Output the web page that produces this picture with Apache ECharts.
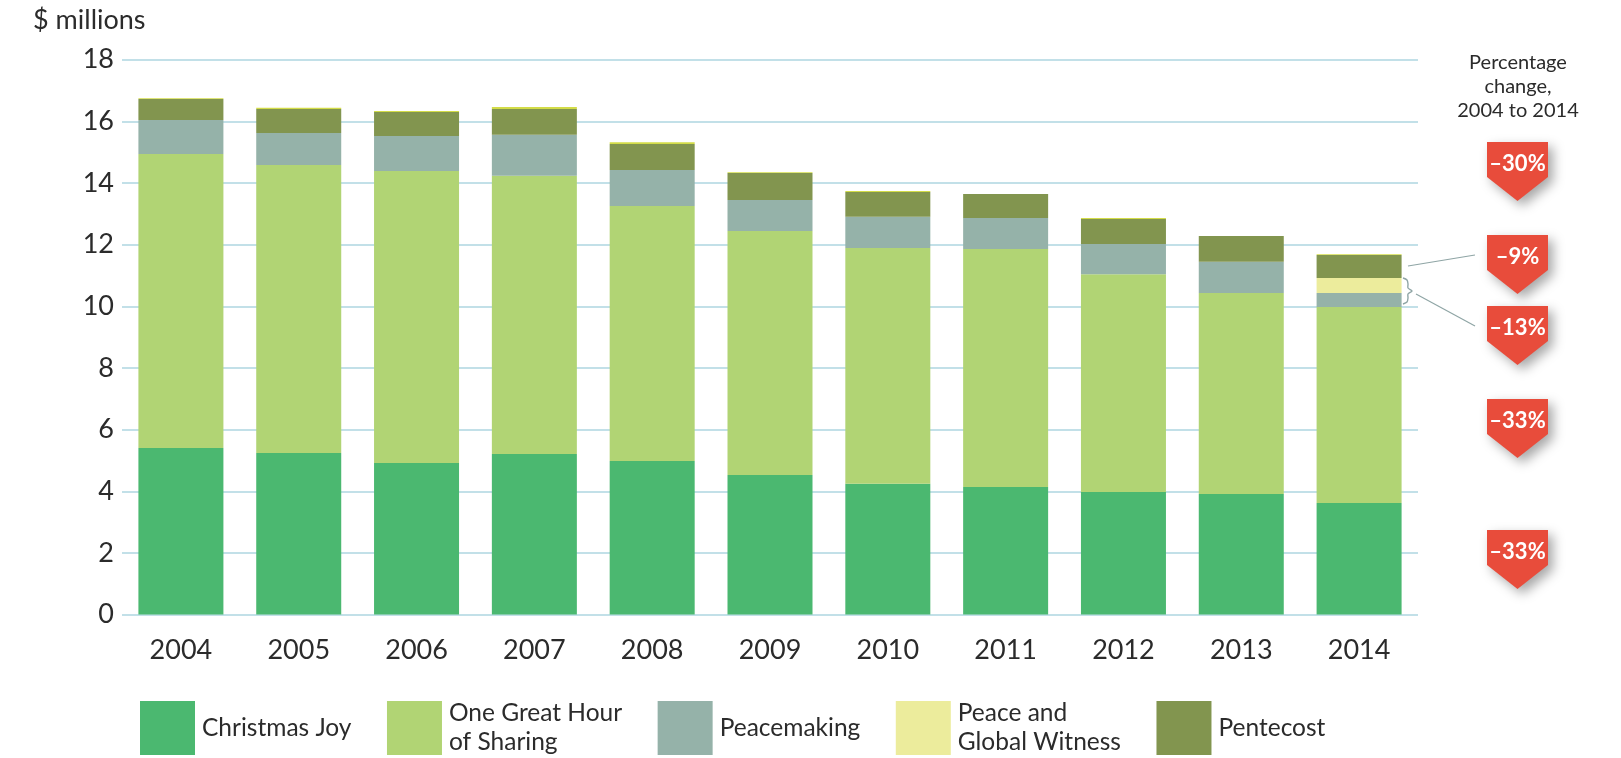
<!DOCTYPE html>
<html>
<head>
<meta charset="utf-8">
<title>Special offerings, 2004-2014</title>
<script src="https://cdn.jsdelivr.net/npm/echarts@6/dist/echarts.min.js"></script>
<style>
	html, body { margin: 0; padding: 0; background: #fff; }
	#chart { width: 1621px; height: 758px; }
</style>
</head>
<body>
<div id="chart"></div>
<script>
// data ($ millions)
var years = [ '2004', '2005', '2006', '2007', '2008', '2009', '2010', '2011', '2012', '2013', '2014' ];
var christmasJoy = [ 5.40, 5.24, 4.92, 5.21, 4.98, 4.53, 4.24, 4.14, 3.98, 3.91, 3.62 ];
var greatHour = [ 9.54, 9.34, 9.47, 9.02, 8.27, 7.91, 7.65, 7.72, 7.06, 6.52, 6.36 ];
var peacemaking = [ 1.10, 1.04, 1.13, 1.33, 1.17, 1.01, 1.01, 1.00, 0.98, 1.01, 0.45 ];
var peaceWitness = [ 0, 0, 0, 0, 0, 0, 0, 0, 0, 0, 0.49 ];
var pentecost = [ 0.68, 0.78, 0.78, 0.84, 0.84, 0.87, 0.81, 0.78, 0.81, 0.84, 0.74 ];
// thin yellow sliver sitting on top of most bars
var topSliver = [ 0.03, 0.04, 0.03, 0.06, 0.06, 0.03, 0.03, 0, 0.03, 0, 0.03 ];

var seriesNames = [ 'Christmas Joy', 'One Great Hour\nof Sharing', 'Peacemaking', 'Peace and\nGlobal Witness', 'Pentecost' ];
var seriesColors = [ '#4bb870', '#b1d474', '#95b2a9', '#ecec9c', '#82954f' ];

// percentage change 2004 to 2014, top to bottom
var changeLabels = [ '–30%', '–9%', '–13%', '–33%', '–33%' ];
var badgeTop = [ 142, 235, 306, 399, 530 ];

var textColor = '#2b2b2b';
var fontFamily = 'Lato, "Noto Sans", sans-serif';

var chart = echarts.init(document.getElementById('chart'));

function barSeries(name, data, color) {
	return {
		name : name,
		type : 'bar',
		stack : 'total',
		barWidth : 85,
		data : data,
		itemStyle : {
			color : color
		},
		emphasis : {
			disabled : true
		}
	};
}

function badges() {
	var els = [];
	var x0 = 1487, x1 = 1548, xm = 1517.5;
	changeLabels.forEach(function(label, i) {
		var t = badgeTop[i];
		els.push({
			type : 'polygon',
			shape : {
				points : [ [ x0, t ], [ x1, t ], [ x1, t + 35 ], [ xm, t + 59 ], [ x0, t + 35 ] ]
			},
			style : {
				fill : '#e84c3b',
				shadowBlur : 12,
				shadowColor : 'rgba(0,0,0,0.35)',
				shadowOffsetX : 5,
				shadowOffsetY : 5
			},
			z : 10
		});
		els.push({
			type : 'text',
			x : xm,
			y : t + 22,
			style : {
				text : label,
				fill : '#fff',
				font : 'bold 22px ' + fontFamily,
				align : 'center',
				verticalAlign : 'middle'
			},
			z : 11
		});
	});
	return els;
}

var option = {
	animation : false,
	color : seriesColors,
	grid : {
		left : 122,
		right : 203,
		top : 59.6,
		bottom : 143.4
	},
	legend : {
		data : seriesNames,
		left : 140,
		top : 699,
		padding : 0,
		itemWidth : 55,
		itemHeight : 54,
		itemGap : 35.5,
		icon : 'rect',
		selectedMode : false,
		textStyle : {
			fontFamily : fontFamily,
			fontSize : 24.5,
			lineHeight : 29,
			color : textColor,
			padding : [ 0, 0, 0, 2 ]
		}
	},
	xAxis : {
		type : 'category',
		data : years,
		axisLine : {
			show : false
		},
		axisTick : {
			show : false
		},
		axisLabel : {
			margin : 22,
			fontFamily : fontFamily,
			fontSize : 27,
			color : textColor
		}
	},
	yAxis : {
		type : 'value',
		min : 0,
		max : 18,
		interval : 2,
		axisLine : {
			show : false
		},
		axisTick : {
			show : false
		},
		axisLabel : {
			margin : 8,
			fontFamily : fontFamily,
			fontSize : 27,
			color : textColor
		},
		splitLine : {
			lineStyle : {
				color : '#c2e0e8',
				width : 2
			}
		}
	},
	series : [
		barSeries(seriesNames[0], christmasJoy, seriesColors[0]),
		barSeries(seriesNames[1], greatHour, seriesColors[1]),
		barSeries(seriesNames[2], peacemaking, seriesColors[2]),
		barSeries(seriesNames[3], peaceWitness, seriesColors[3]),
		barSeries(seriesNames[4], pentecost, seriesColors[4]),
		barSeries('top', topSliver, '#d3dc48')
	],
	graphic : [ {
		type : 'text',
		x : 33,
		y : 20,
		style : {
			text : '$ millions',
			font : '27px ' + fontFamily,
			fill : textColor,
			verticalAlign : 'middle'
		}
	}, {
		type : 'text',
		x : 1518,
		y : 51,
		style : {
			text : 'Percentage\nchange,\n2004 to 2014',
			font : '20px ' + fontFamily,
			lineHeight : 24,
			fill : textColor,
			align : 'center'
		}
	}, {
		// leader to Pentecost
		type : 'line',
		shape : { x1 : 1408, y1 : 266, x2 : 1475, y2 : 255 },
		style : { stroke : '#8fa5a5', lineWidth : 1.2 }
	}, {
		// leader to the Peacemaking brace
		type : 'line',
		shape : { x1 : 1416, y1 : 294, x2 : 1475, y2 : 326 },
		style : { stroke : '#8fa5a5', lineWidth : 1.2 }
	}, {
		// brace round Peacemaking + Peace and Global Witness, 2014
		type : 'polyline',
		shape : {
			points : [ [ 1403, 278 ], [ 1407, 280 ], [ 1408, 284 ], [ 1408, 288 ], [ 1412, 291 ], [ 1408, 294 ], [ 1408, 298 ], [ 1407, 302 ], [ 1403, 304 ] ],
			smooth : 0.3
		},
		style : { stroke : '#8fa5a5', lineWidth : 1.4, fill : null }
	} ].concat(badges())
};

chart.setOption(option);

window.onresize = function() {
	chart.resize();
}
</script>
</body>
</html>
